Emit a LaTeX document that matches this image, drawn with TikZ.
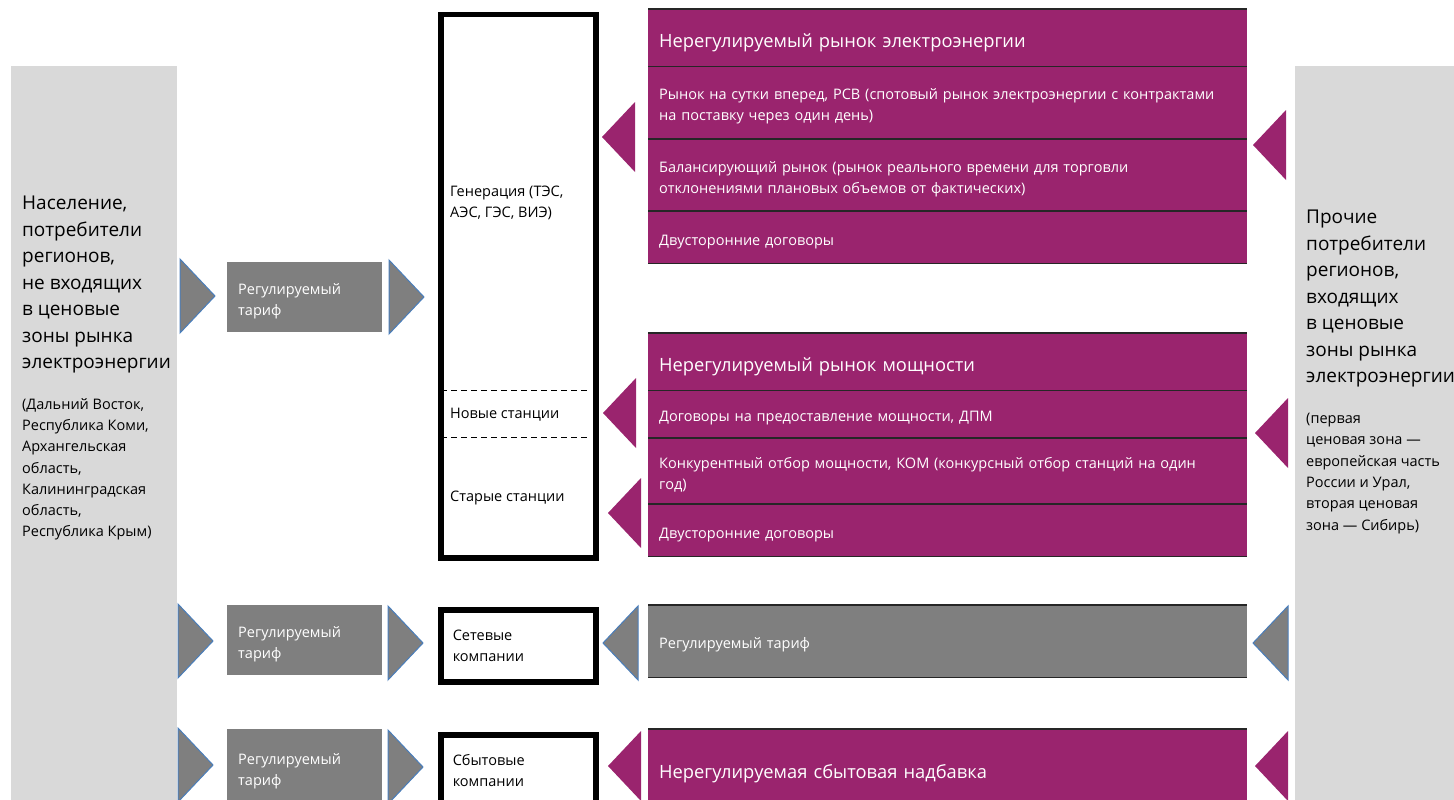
\documentclass[tikz,border=0pt]{standalone}
\usepackage{fontspec}
\setmainfont{Open Sans}
\usetikzlibrary{positioning}

\definecolor{plum}{HTML}{9A246E}
\definecolor{tarifgray}{HTML}{7F7F7F}
\definecolor{sidegray}{HTML}{D9D9D9}
\definecolor{edgeblue}{HTML}{4A7EBB}

\newcommand{\bigfont}{\fontsize{19}{26.5}\selectfont}
\newcommand{\smallfont}{\fontsize{14.5}{21.3}\selectfont}
\newcommand{\headfont}{\fontsize{18.3}{22}\selectfont}
\newcommand{\lowstrut}{\rule{0pt}{1.3em}}

\tikzset{
  sidecol/.style={fill=sidegray, draw=none, inner sep=0pt, anchor=north west},
  bigtxt/.style={font=\bigfont, align=left, inner sep=0pt},
  smalltxt/.style={font=\smallfont, align=left, inner sep=0pt},
  tarif/.style={fill=tarifgray, text=white, font=\smallfont, align=left,
    minimum width=155pt, text width=133pt, inner xsep=11pt, inner ysep=0pt, anchor=north west,
    execute at begin node=\lowstrut},
  station/.style={draw=black, line width=5.5pt, font=\smallfont, align=left,
    minimum width=155pt, text width=131pt, inner xsep=12pt, inner ysep=0pt, anchor=north west},
  mrow/.style={fill=plum, text=white, font=\smallfont, align=left,
    minimum width=599pt, text width=577pt, inner xsep=11pt, inner ysep=0pt, anchor=north west,
    execute at begin node=\lowstrut},
  sep/.style={draw=black!85, line width=1.5pt},
  gtri/.style={fill=tarifgray, draw=edgeblue, line width=1pt},
  mtri/.style={fill=plum, draw=none},
}

\begin{document}
\begin{tikzpicture}[x=1pt, y=-1pt]
\useasboundingbox (0,0) rectangle (1454,800);
\clip (0,0) rectangle (1454,800);

% consumers at both sides
\node[sidecol, minimum width=166pt, minimum height=740pt] (left) at (11,66) {};
\node[sidecol, minimum width=165pt, minimum height=740pt] (right) at (1295,66) {};
\node[bigtxt, anchor=north west] (lefttxt) at (22,196)
  {Население,\\потребители\\регионов,\\не входящих\\в ценовые\\зоны рынка\\электроэнергии};
\node[smalltxt, anchor=north west] (leftnote) at (22,398)
  {(Дальний Восток,\\Республика Коми,\\Архангельская\\область,\\Калининградская\\область,\\Республика Крым)};
\node[bigtxt, anchor=north west] (righttxt) at (1306,210)
  {Прочие\\потребители\\регионов,\\входящих\\в ценовые\\зоны рынка\\электроэнергии};
\node[smalltxt, anchor=north west] (rightnote) at (1306,413)
  {(первая\\ценовая зона —\\европейская часть\\России и Урал,\\вторая ценовая\\зона — Сибирь)};

% regulated tariffs
\node[tarif, minimum height=70pt] (tar1) at (227,262) {Регулируемый\\тариф};
\node[tarif, minimum height=70pt] (tar2) at (227,605) {Регулируемый\\тариф};
\node[tarif, minimum height=76pt] (tar3) at (227,729) {Регулируемый\\тариф};

% companies
\node[station, minimum height=543pt] (gen) at (438,12) {};
\node[smalltxt, anchor=west] (gentxt) at (450,203) {Генерация (ТЭС,\\АЭС, ГЭС, ВИЭ)};
\node[smalltxt, anchor=west] (newst) at (450,414.5) {Новые станции};
\node[smalltxt, anchor=west] (oldst) at (450,497.5) {Старые станции};
\draw[dash pattern=on 6pt off 4pt, line width=1pt] (441,390) -- (590,390);
\draw[dash pattern=on 6pt off 4pt, line width=1pt] (441,437) -- (590,437);
\node[station, minimum height=72pt] (grid) at (438,607) {Сетевые\\компании};
\node[station, minimum height=72pt] (sales) at (438,732) {Сбытовые\\компании};

% markets
\node[mrow, font=\headfont, minimum height=57pt] (e1h) at (648,9) {Нерегулируемый рынок электроэнергии};
\node[mrow, minimum height=72pt, below=0pt of e1h.south west, anchor=north west] (e1a)
  {Рынок на сутки вперед, РСВ (спотовый рынок электроэнергии с контрактами\\на поставку через один день)};
\node[mrow, minimum height=72pt, below=0pt of e1a.south west, anchor=north west] (e1b)
  {Балансирующий рынок (рынок реального времени для торговли\\отклонениями плановых объемов от фактических)};
\node[mrow, minimum height=52pt, below=0pt of e1b.south west, anchor=north west] (e1c) {Двусторонние договоры};

\node[mrow, font=\headfont, minimum height=57pt] (m2h) at (648,333) {Нерегулируемый рынок мощности};
\node[mrow, minimum height=47pt, below=0pt of m2h.south west, anchor=north west] (m2a)
  {Договоры на предоставление мощности, ДПМ};
\node[mrow, minimum height=66pt, below=0pt of m2a.south west, anchor=north west] (m2b)
  {Конкурентный отбор мощности, КОМ (конкурсный отбор станций на один\\год)};
\node[mrow, minimum height=52pt, below=0pt of m2b.south west, anchor=north west] (m2c) {Двусторонние договоры};

\node[mrow, fill=tarifgray, minimum height=72pt] (rt) at (648,605) {Регулируемый тариф};
\node[mrow, font=\headfont, minimum height=80pt] (sb) at (648,729) {Нерегулируемая сбытовая надбавка};

\foreach \n in {e1h,e1a,e1b,e1c,m2h,m2a,m2b,m2c,rt,sb}
  \draw[sep] (\n.north west) -- (\n.north east);
\foreach \n in {e1c,m2c,rt}
  \draw[sep] (\n.south west) -- (\n.south east);

% arrows
\foreach \x/\y in {215/296,424/297,213/641,423/643,213/765,423/767}
  \draw[gtri] (\x-35,\y-37) -- (\x,\y) -- (\x-35,\y+37) -- cycle;
\foreach \x/\y in {603/643,1253/643}
  \draw[gtri] (\x+35,\y-37) -- (\x,\y) -- (\x+35,\y+37) -- cycle;
\foreach \x/\y in {602/137,1253/145,603/413,608/513,1255/433,608/766,1255/766}
  \fill[mtri] (\x+33,\y-35) -- (\x,\y) -- (\x+33,\y+35) -- cycle;

\end{tikzpicture}
\end{document}
